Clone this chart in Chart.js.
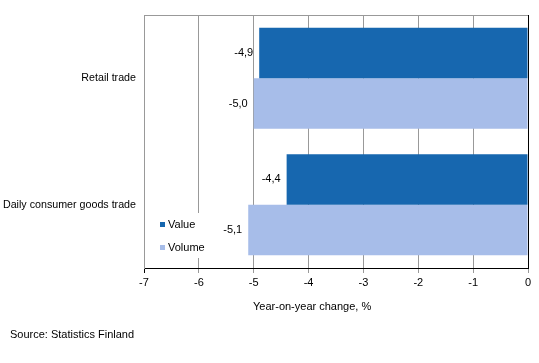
<!DOCTYPE html>
<html>
<head>
<meta charset="utf-8">
<script src="https://cdn.jsdelivr.net/npm/chart.js@4/dist/chart.umd.min.js"></script>
<style>
  html, body { margin: 0; padding: 0; background: #fff; }
  #wrap { width: 539px; height: 363px; position: relative; }
</style>
</head>
<body>
<div id="wrap"><canvas id="tradeChart"></canvas></div>
<script>
const categories = ["Retail trade", "Daily consumer goods trade"]
const valueChange = [-4.9, -4.4]
const volumeChange = [-5.0, -5.1]
const xTicks = [-7, -6, -5, -4, -3, -2, -1, 0]

const FONT = "'Liberation Sans', Arial, sans-serif"
const DARK_BLUE = '#1767af'
const LIGHT_BLUE = '#a7bde9'

// labels left of each bar end, finnish decimal comma
const barLabels = {
    id: 'barLabels',
    afterDatasetsDraw(chart) {
        const ctx = chart.ctx
        ctx.save()
        ctx.font = '11px ' + FONT
        ctx.fillStyle = '#000'
        ctx.textAlign = 'right'
        ctx.textBaseline = 'middle'
        chart.data.datasets.forEach((ds, i) => {
            chart.getDatasetMeta(i).data.forEach((bar, j) => {
                ctx.fillText(ds.data[j].toFixed(1).replace('.', ','), bar.x - 6, bar.y)
            })
        })

        // legend inside the plot, bottom left, on white
        const area = chart.chartArea
        ctx.fillStyle = '#fff'
        ctx.fillRect(area.left + 1, 213, 70, 45)
        ctx.textAlign = 'left'
        chart.data.datasets.forEach((ds, i) => {
            const y = 225 + i * 23
            ctx.fillStyle = ds.backgroundColor
            ctx.fillRect(160, y - 3, 5, 5)
            ctx.fillStyle = '#000'
            ctx.fillText(ds.label, 168, y)
        })

        // top border of the plot
        ctx.strokeStyle = '#999'
        ctx.lineWidth = 1
        ctx.beginPath()
        ctx.moveTo(area.left, area.top + 0.5)
        ctx.lineTo(area.right, area.top + 0.5)
        ctx.stroke()

        ctx.font = '11px ' + FONT
        ctx.fillStyle = '#000'
        ctx.textBaseline = 'middle'
        ctx.fillText('Year-on-year change, %', 253, 307)
        ctx.fillText('Source: Statistics Finland', 10, 335)
        ctx.restore()
    }
}

const tradeChart = new Chart(document.getElementById('tradeChart'), {
    type: 'bar',
    data: {
        labels: categories,
        datasets: [
            {
                label: 'Value',
                data: valueChange,
                backgroundColor: DARK_BLUE,
                categoryPercentage: 0.8,
                barPercentage: 1.0
            },
            {
                label: 'Volume',
                data: volumeChange,
                backgroundColor: LIGHT_BLUE,
                categoryPercentage: 0.8,
                barPercentage: 1.0
            }
        ]
    },
    options: {
        indexAxis: 'y',
        responsive: true,
        maintainAspectRatio: false,
        animation: false,
        layout: { padding: { left: 0, top: 15, right: 11, bottom: 0 } },
        plugins: {
            legend: { display: false },
            tooltip: { enabled: false }
        },
        scales: {
            x: {
                min: -7,
                max: 0,
                afterBuildTicks(axis) {
                    axis.ticks = xTicks.map(v => ({ value: v }))
                },
                afterFit(axis) { axis.height = 95 },
                grid: {
                    color: ctx => ctx.tick && ctx.tick.value === 0 ? '#000' : '#999',
                    tickColor: ctx => ctx.tick && ctx.tick.value === -7 ? '#000' : '#999',
                    tickLength: 5,
                    lineWidth: 1
                },
                border: { color: '#000' },
                ticks: {
                    color: '#000',
                    font: { family: FONT, size: 11 },
                    padding: 3,
                    maxRotation: 0,
                    callback: v => String(v)
                }
            },
            y: {
                afterFit(axis) { axis.width = 144 },
                grid: { display: false, drawTicks: false },
                border: { color: '#999' },
                ticks: {
                    color: '#000',
                    font: { family: FONT, size: 10.7 },
                    padding: 8
                }
            }
        }
    },
    plugins: [barLabels]
});
</script>
</body>
</html>
